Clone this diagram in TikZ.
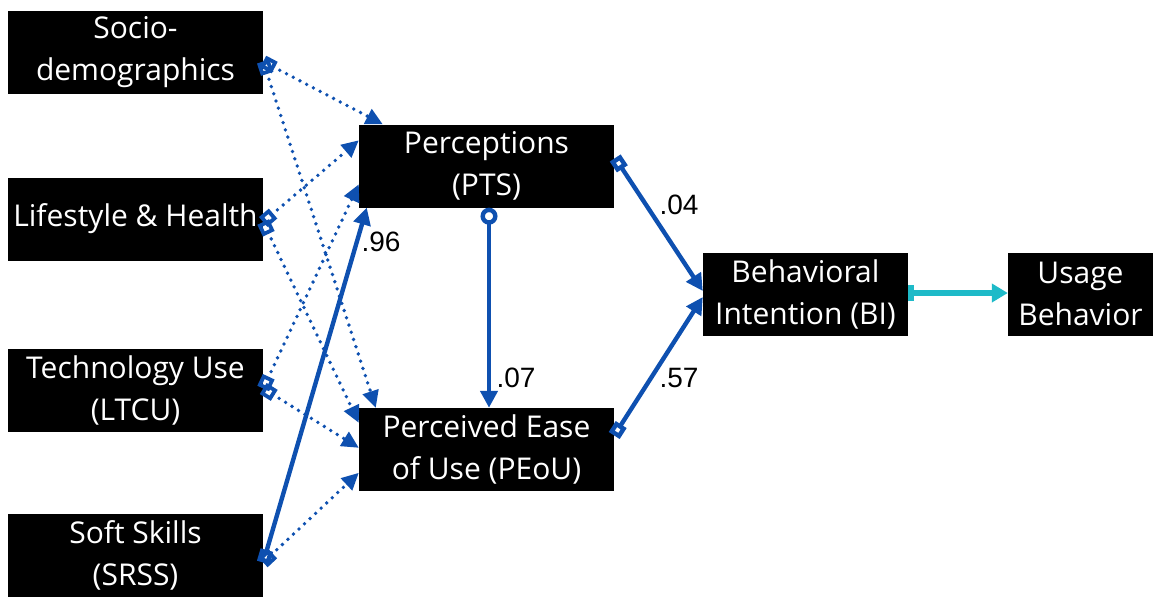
\documentclass[tikz,border=0pt]{standalone}
\usepackage{fontspec}
\setmainfont{Open Sans}
\newfontfamily\numfont{Liberation Sans}
\usetikzlibrary{arrows.meta,calc}
\definecolor{pathblue}{RGB}{14,80,176}
\definecolor{flowcyan}{RGB}{30,186,200}
\begin{document}
\begin{tikzpicture}[x=1pt,y=-1pt,
  construct/.style={fill=black, text=white, minimum height=83pt, inner sep=0pt,
    align=center, font=\fontsize{30}{42}\selectfont},
  hyp/.style={draw=pathblue, line width=3.8pt, dash pattern=on 0pt off 7.6pt, line cap=round,
    {Square[open,length=13pt,width=13pt]}-{Triangle[length=17pt,width=16pt]}},
  effect/.style={draw=pathblue, line width=4.4pt,
    {Square[open,length=13pt,width=13pt]}-{Triangle[length=17pt,width=17pt]}},
  coef/.style={font=\numfont\fontsize{28}{30}\selectfont, text=black, inner sep=0pt}
]
\useasboundingbox (0,0) rectangle (1157,598);

% antecedent constructs
\node[construct, minimum width=255pt] (soc)  at (135.5,52.5) {Socio-\\demographics};
\node[construct, minimum width=255pt] (life) at (135.5,219)  {Lifestyle \& Health};
\node[construct, minimum width=255pt] (tech) at (135.5,390.5){Technology Use\\(LTCU)};
\node[construct, minimum width=255pt] (soft) at (135.5,555.5){Soft Skills\\(SRSS)};

% mediators and outcomes
\node[construct, minimum width=255pt] (pts)  at (486.5,166)  {Perceptions\\(PTS)};
\node[construct, minimum width=255pt] (peou) at (486.5,449.5){Perceived Ease\\of Use (PEoU)};
\node[construct, minimum width=205pt] (bi)   at (805.5,294)  {Behavioral\\Intention (BI)};
\node[construct, minimum width=145pt] (ub)   at (1080.5,294) {Usage\\Behavior};

% hypothesised (non-significant) paths
\draw[hyp] ($(soc.east)+(0,9)$)   -- ($(pts.north west)+(24,0)$);
\draw[hyp] ($(soc.east)+(0,9)$)   -- ($(peou.north west)+(17,0)$);
\draw[hyp] ($(life.east)+(0,3)$)  -- ($(pts.north west)+(0,16)$);
\draw[hyp] ($(life.east)+(0,3)$)  -- ($(peou.north west)+(0,15)$);
\draw[hyp] ($(tech.east)+(0,-2)$) -- ($(pts.north west)+(0,60)$);
\draw[hyp] ($(tech.east)+(0,-2)$) -- ($(peou.north west)+(0,40)$);
\draw[hyp] ($(soft.east)+(0,7)$)  -- ($(peou.north west)+(0,65)$);

% estimated effects
\draw[effect] ($(soft.east)+(0,7)$) -- ($(pts.south west)+(8,0)$);
\draw[draw=pathblue, line width=4.4pt, {Circle[open,length=17pt,width=17pt]}-{Triangle[length=17pt,width=17pt]}]
  ($(pts.south)+(2.5,0)$) -- ($(peou.north)+(2.5,0)$);
\draw[effect] ($(pts.east)+(1,-8)$)   -- ($(bi.west)+(0,-3)$);
\draw[effect] ($(peou.east)+(0,-14)$) -- ($(bi.west)+(0,3)$);
\draw[draw=flowcyan, line width=5.5pt, {Bar[width=16pt]}-{Triangle[length=16pt,width=18pt]}]
  ($(bi.east)+(0,-1)$) -- ($(ub.west)+(0,-1)$);

% path coefficients
\node[coef] (c96) at (381,242) {.96};
\node[coef] (c07) at (516,378) {.07};
\node[coef] (c04) at (679,205) {.04};
\node[coef] (c57) at (679,378) {.57};
\end{tikzpicture}
\end{document}
